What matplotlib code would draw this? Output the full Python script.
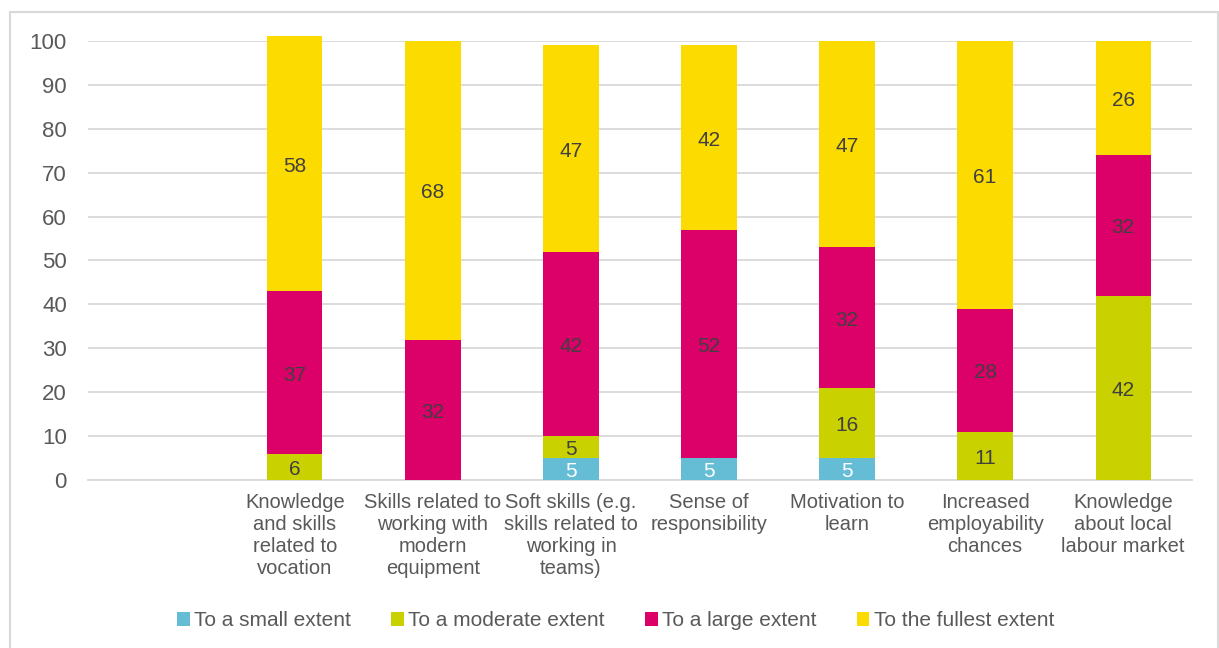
import matplotlib.pyplot as plt
import numpy as np
from matplotlib.patches import Rectangle

plt.rcParams['font.family'] = ['Liberation Sans', 'DejaVu Sans']

categories = ["", "Knowledge\nand skills\nrelated to\nvocation",
              "Skills related to\nworking with\nmodern\nequipment",
              "Soft skills (e.g.\nskills related to\nworking in\nteams)",
              "Sense of\nresponsibility", "Motivation to\nlearn",
              "Increased\nemployability\nchances",
              "Knowledge\nabout local\nlabour market"]
series = ["To a small extent", "To a moderate extent",
          "To a large extent", "To the fullest extent"]
small = [0, 0, 0, 5, 5, 5, 0, 0]
moderate = [0, 6, 0, 5, 0, 16, 11, 42]
large = [0, 37, 32, 42, 52, 32, 28, 32]
fullest = [0, 58, 68, 47, 42, 47, 61, 26]

colors = ["#65bdd5", "#c9d200", "#dc0069", "#fcdb00"]
label_colors = ["white", "#404040", "#404040", "#404040"]

fig = plt.figure(figsize=(12.19, 6.48), dpi=100)
ax = fig.add_axes([0.072, 0.259, 0.906, 0.678])

x = np.arange(len(categories))
bottom = np.zeros(len(categories))
for name, vals, col, tcol in zip(series, [small, moderate, large, fullest],
                                 colors, label_colors):
    vals = np.array(vals, dtype=float)
    ax.bar(x, vals, 0.4, bottom=bottom, color=col, label=name,
           zorder=3, clip_on=False)
    for xi, b, v in zip(x, bottom, vals):
        if v > 0:
            ax.text(xi, b + v / 2 - 0.6, f"{v:g}", ha="center", va="center",
                    fontsize=15, color=tcol, zorder=4)
    bottom += vals

ax.set_xlim(-0.5, len(categories) - 0.5)
ax.set_ylim(0, 100)
ax.set_yticks(range(0, 101, 10))
ax.set_xticks(x)
ax.set_xticklabels(categories, fontsize=14.5, color="#595959", linespacing=1.2,
                   va="top")
ax.tick_params(axis="y", labelsize=16, labelcolor="#595959", length=0, pad=15)
ax.tick_params(axis="x", length=0, pad=9)
ax.yaxis.grid(True, color="#d9d9d9", lw=1.3, zorder=0)
for s in ["top", "right", "left"]:
    ax.spines[s].set_visible(False)
ax.spines["bottom"].set_color("#d9d9d9")
ax.spines["bottom"].set_linewidth(1.3)

fig.legend(loc="center", bbox_to_anchor=(0.505, 0.042), ncol=4,
           frameon=False, fontsize=15, handlelength=0.6, handleheight=0.6,
           handletextpad=0.2, columnspacing=1.95, labelcolor="#595959")

fig.patches.append(Rectangle((10 / 1219, -0.05), 1208 / 1219, 1 - 12 / 648 + 0.05,
                             transform=fig.transFigure, fill=False,
                             edgecolor="#d9d9d9", lw=1.5))

fig.savefig("out.png", dpi=100)
